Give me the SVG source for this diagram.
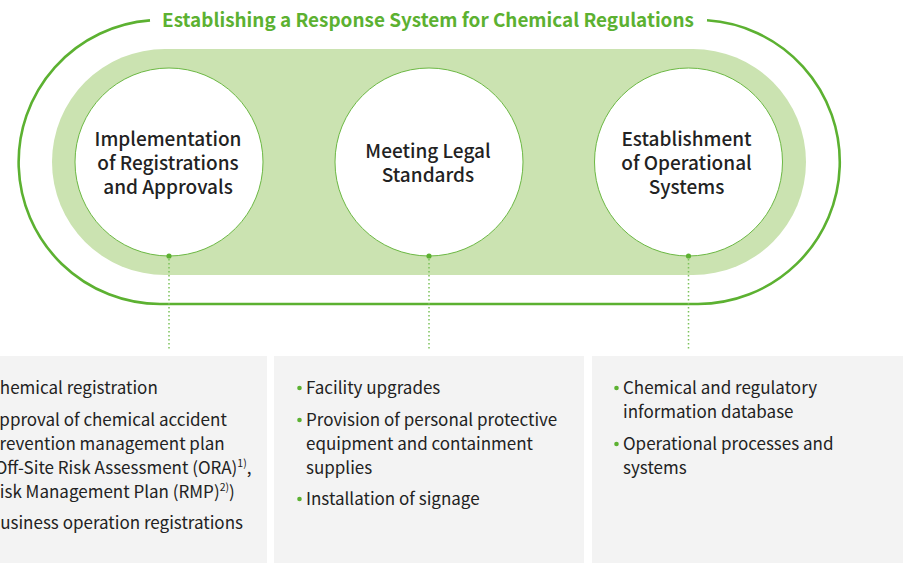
<svg xmlns="http://www.w3.org/2000/svg" width="903" height="563" viewBox="0 0 903 563">
<style>
.title{font-family:"Noto Sans CJK KR","Noto Sans",sans-serif;font-size:18.9px;font-weight:700;fill:#5cb131}
.ct{font-family:"Noto Sans CJK KR","Noto Sans",sans-serif;font-size:19px;font-weight:500;fill:#222;text-anchor:middle}
.bt{font-family:"Noto Sans CJK KR","Noto Sans",sans-serif;font-size:17px;fill:#222}
.sup{font-size:10.5px}
.node circle.c{fill:#fff;stroke:#6cb844;stroke-width:1}
.dot{fill:#5cb131}
.box{fill:#f3f3f3}
.bul{fill:#5cb131}
.lead{stroke:#7cc25a;stroke-width:1.5;stroke-dasharray:1.5 2.5;fill:none}
</style>
<rect width="903" height="563" fill="#fff"/>
<path d="M150,20.4 A142,142 0 0 0 160,304 L698,304 A142,142 0 0 0 707,20.3" fill="none" stroke="#5cb131" stroke-width="2.6"/>
<text class="title" x="428" y="26.5" text-anchor="middle">Establishing a Response System for Chemical Regulations</text>
<rect x="52" y="49" width="754" height="226" rx="113" fill="#cbe3b1"/>
<g id="connectors">
<line class="lead" x1="169" y1="259" x2="169" y2="350"/>
<line class="lead" x1="429" y1="259" x2="429" y2="350"/>
<line class="lead" x1="688.5" y1="259" x2="688.5" y2="350"/>
</g>
<g id="node1" class="node">
<circle class="c" cx="169" cy="162" r="94"/>
<circle class="dot" cx="169" cy="256" r="2.6"/>
<text class="ct" x="168" y="146">Implementation</text>
<text class="ct" x="168" y="170">of Registrations</text>
<text class="ct" x="168" y="194">and Approvals</text>
</g>
<g id="node2" class="node">
<circle class="c" cx="429" cy="162" r="94"/>
<circle class="dot" cx="429" cy="256" r="2.6"/>
<text class="ct" x="428" y="158">Meeting Legal</text>
<text class="ct" x="428" y="182">Standards</text>
</g>
<g id="node3" class="node">
<circle class="c" cx="688.5" cy="162" r="94"/>
<circle class="dot" cx="688.5" cy="256" r="2.6"/>
<text class="ct" x="686.5" y="146">Establishment</text>
<text class="ct" x="686.5" y="170">of Operational</text>
<text class="ct" x="686.5" y="194">Systems</text>
</g>
<g id="box1">
<rect class="box" x="-43" y="356" width="310" height="207"/>
<circle class="bul" cx="-18" cy="388" r="2.3"/>
<circle class="bul" cx="-18" cy="420" r="2.3"/>
<circle class="bul" cx="-18" cy="517" r="2.3"/>
<text class="bt" x="-11" y="394">Chemical registration</text>
<text class="bt" x="-11" y="426">Approval of chemical accident</text>
<text class="bt" x="-11" y="450">prevention management plan</text>
<text class="bt" x="-11" y="474">(Off-Site Risk Assessment (ORA)<tspan class="sup" dy="-7">1)</tspan><tspan dy="7">,</tspan></text>
<text class="bt" x="-11" y="498">Risk Management Plan (RMP)<tspan class="sup" dy="-7">2)</tspan><tspan dy="7">)</tspan></text>
<text class="bt" x="-11" y="529">Business operation registrations</text>
</g>
<g id="box2">
<rect class="box" x="274" y="356" width="310" height="207"/>
<circle class="bul" cx="299.5" cy="388" r="2.3"/>
<circle class="bul" cx="299.5" cy="420" r="2.3"/>
<circle class="bul" cx="299.5" cy="499" r="2.3"/>
<text class="bt" x="306" y="394">Facility upgrades</text>
<text class="bt" x="306" y="426">Provision of personal protective</text>
<text class="bt" x="306" y="450">equipment and containment</text>
<text class="bt" x="306" y="474">supplies</text>
<text class="bt" x="306" y="505">Installation of signage</text>
</g>
<g id="box3">
<rect class="box" x="592" y="356" width="315" height="207"/>
<circle class="bul" cx="616.5" cy="388" r="2.3"/>
<circle class="bul" cx="616.5" cy="444" r="2.3"/>
<text class="bt" x="623" y="394">Chemical and regulatory</text>
<text class="bt" x="623" y="418">information database</text>
<text class="bt" x="623" y="450">Operational processes and</text>
<text class="bt" x="623" y="474">systems</text>
</g>
</svg>
